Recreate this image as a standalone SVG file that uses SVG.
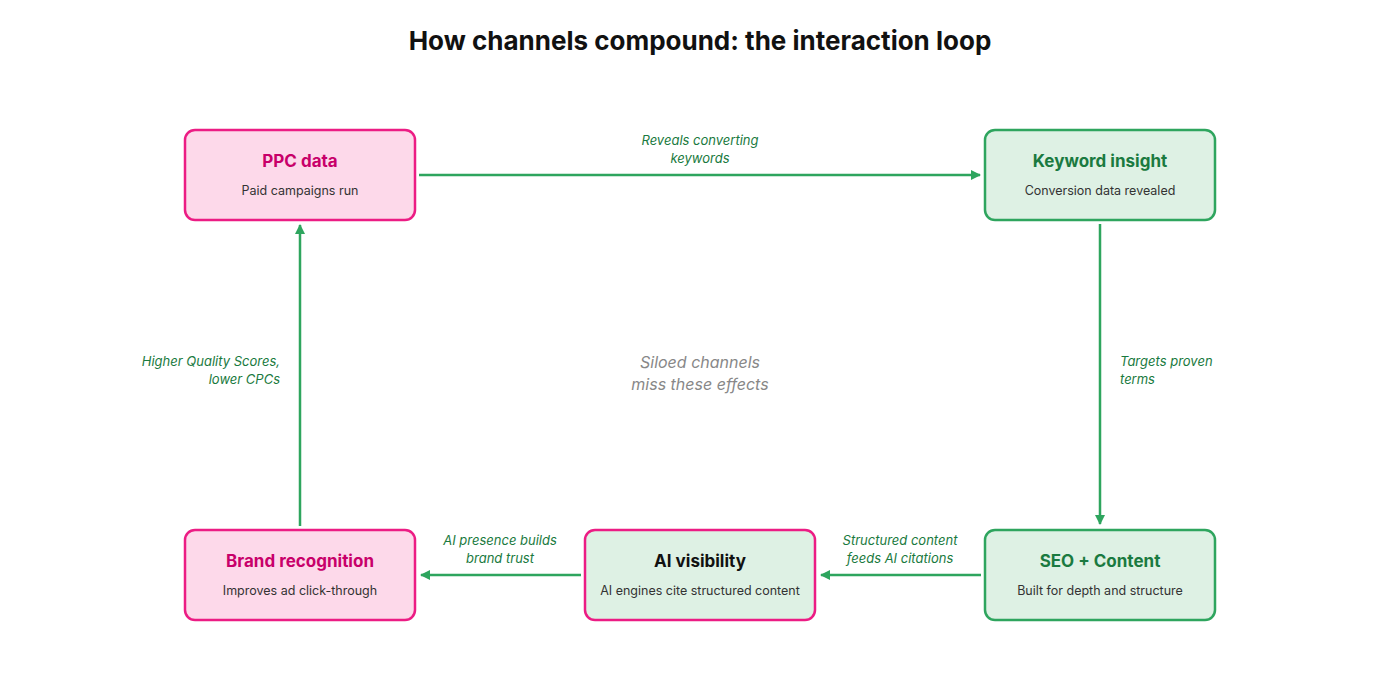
<svg xmlns="http://www.w3.org/2000/svg" width="1400" height="700" viewBox="0 0 1400 700">
<style>
text{font-family:"Inter","Open Sans",sans-serif}
.t{font-size:17px;font-weight:700;text-anchor:middle}
.s{font-size:12.5px;fill:#333;text-anchor:middle}
.l{font-size:13px;font-style:italic;fill:#1a7a40}
.pk{fill:#fdd9ea;stroke:#ec1c84;stroke-width:2.5}
.gr{fill:#def1e4;stroke:#2ea55e;stroke-width:2.5}
.c{stroke:#2ea55e;stroke-width:2.5;fill:none;marker-end:url(#a)}
</style>
<defs><marker id="a" viewBox="0 0 10 10" refX="9" refY="5" markerWidth="4" markerHeight="4" orient="auto"><path d="M0,0L10,5L0,10z" fill="#2ea55e"/></marker></defs>
<rect width="1400" height="700" fill="#fff"/>
<text x="700" y="50" font-size="26" font-weight="700" text-anchor="middle" fill="#111">How channels compound: the interaction loop</text>
<g id="connectors">
<path class="c" d="M419,175H980"/>
<path class="c" d="M1100,224V524"/>
<path class="c" d="M981,575H821"/>
<path class="c" d="M581,575H421"/>
<path class="c" d="M300,526V225"/>
<text class="l" x="700" y="145" text-anchor="middle">Reveals converting</text>
<text class="l" x="700" y="163" text-anchor="middle">keywords</text>
<text class="l" x="1120" y="366">Targets proven</text>
<text class="l" x="1120" y="384">terms</text>
<text class="l" x="900" y="545" text-anchor="middle">Structured content</text>
<text class="l" x="900" y="563" text-anchor="middle">feeds AI citations</text>
<text class="l" x="500" y="545" text-anchor="middle">AI presence builds</text>
<text class="l" x="500" y="563" text-anchor="middle">brand trust</text>
<text class="l" x="280" y="366" text-anchor="end">Higher Quality Scores,</text>
<text class="l" x="280" y="384" text-anchor="end">lower CPCs</text>
</g>
<text x="700" y="368" font-size="16" font-style="italic" fill="#888" text-anchor="middle">Siloed channels</text>
<text x="700" y="390" font-size="16" font-style="italic" fill="#888" text-anchor="middle">miss these effects</text>
<g id="ppc"><rect class="pk" x="185" y="130" width="230" height="90" rx="10"/><text class="t" x="300" y="167" fill="#c8006a">PPC data</text><text class="s" x="300" y="195">Paid campaigns run</text></g>
<g id="keyword"><rect class="gr" x="985" y="130" width="230" height="90" rx="10"/><text class="t" x="1100" y="167" fill="#1a7a40">Keyword insight</text><text class="s" x="1100" y="195">Conversion data revealed</text></g>
<g id="seo"><rect class="gr" x="985" y="530" width="230" height="90" rx="10"/><text class="t" x="1100" y="567" fill="#1a7a40">SEO + Content</text><text class="s" x="1100" y="595">Built for depth and structure</text></g>
<g id="ai"><rect x="585" y="530" width="230" height="90" rx="10" fill="#def1e4" stroke="#ec1c84" stroke-width="2.5"/><text class="t" x="700" y="567" fill="#111">AI visibility</text><text class="s" x="700" y="595">AI engines cite structured content</text></g>
<g id="brand"><rect class="pk" x="185" y="530" width="230" height="90" rx="10"/><text class="t" x="300" y="567" fill="#c8006a">Brand recognition</text><text class="s" x="300" y="595">Improves ad click-through</text></g>
</svg>
